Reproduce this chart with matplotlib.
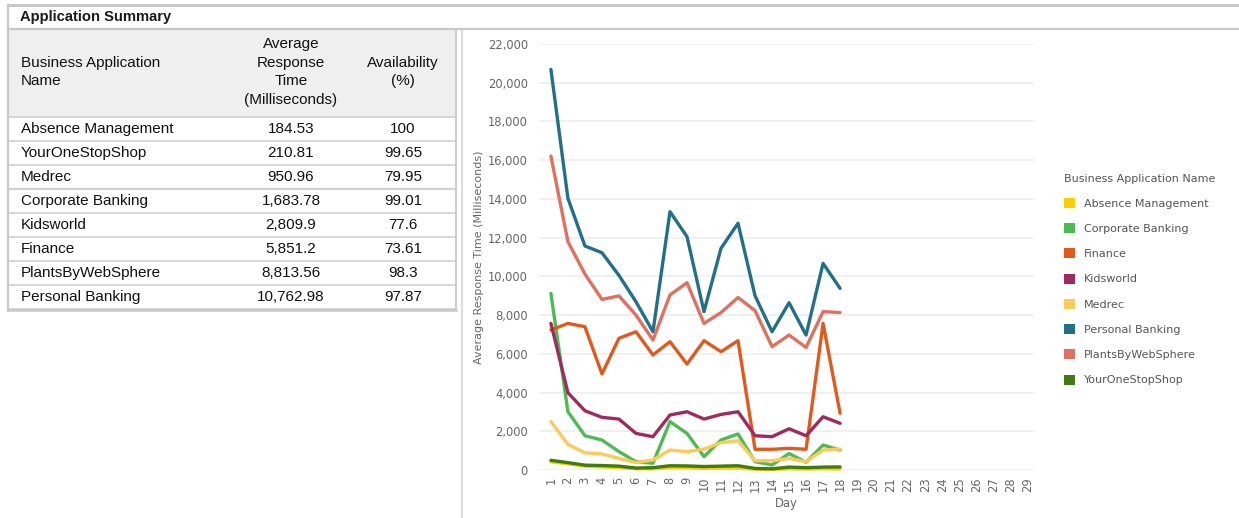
import matplotlib
matplotlib.use("Agg")
import matplotlib.pyplot as plt
from matplotlib.lines import Line2D
from matplotlib.patches import Rectangle, Patch
from matplotlib.ticker import FuncFormatter

W, H = 1239, 518

# summary table
app_names = ["Absence Management", "YourOneStopShop", "Medrec", "Corporate Banking",
             "Kidsworld", "Finance", "PlantsByWebSphere", "Personal Banking"]
avg_response = ["184.53", "210.81", "950.96", "1,683.78", "2,809.9", "5,851.2",
                "8,813.56", "10,762.98"]
availability = ["100", "99.65", "79.95", "99.01", "77.6", "73.61", "98.3", "97.87"]

# daily response times per application
days = list(range(1, 19))
absence_mgmt = [420, 320, 200, 160, 130, 60, 60, 120, 120, 80, 100, 100, 40, 30, 60, 50, 60, 50]
corporate_banking = [9120, 3010, 1770, 1550, 950, 430, 350, 2500, 1890, 690, 1550, 1860,
                     430, 260, 850, 400, 1290, 1030]
finance = [7230, 7570, 7400, 4960, 6800, 7140, 5940, 6630, 5470, 6680, 6110, 6680,
           1070, 1070, 1120, 1070, 7570, 2930]
kidsworld = [7570, 3990, 3060, 2720, 2630, 1890, 1720, 2840, 3010, 2630, 2870, 3010,
             1770, 1720, 2130, 1770, 2750, 2410]
medrec = [2500, 1320, 890, 830, 600, 380, 520, 1030, 950, 1080, 1410, 1510,
          480, 480, 600, 430, 1030, 1080]
personal_banking = [20690, 14030, 11570, 11220, 10050, 8690, 7140, 13340, 12050, 8180,
                    11450, 12740, 9000, 7140, 8640, 6970, 10670, 9380]
plants = [16210, 11790, 10120, 8810, 8990, 8000, 6710, 9040, 9670, 7570, 8130, 8910,
          8230, 6370, 6970, 6330, 8180, 8130]
one_stop = [500, 380, 250, 230, 200, 100, 120, 220, 210, 180, 200, 220,
            80, 60, 150, 120, 150, 160]

series = [
    ("Absence Management", absence_mgmt, "#f8d000"),
    ("Corporate Banking", corporate_banking, "#4cbb52"),
    ("Finance", finance, "#e05a1e"),
    ("Kidsworld", kidsworld, "#a02a5e"),
    ("Medrec", medrec, "#fdca5a"),
    ("Personal Banking", personal_banking, "#227087"),
    ("PlantsByWebSphere", plants, "#e0705f"),
    ("YourOneStopShop", one_stop, "#3f7a12"),
]

table_font = ["Liberation Sans", "DejaVu Sans"]
table_size = 11


def fx(px):
    return px / W


def fy(py):
    return 1 - py / H


def hline(fig, y, x0, x1, color="#d0d0d0", lw=1.2):
    fig.add_artist(Line2D([fx(x0), fx(x1)], [fy(y), fy(y)], color=color, lw=lw))


def vline(fig, x, y0, y1, color="#d0d0d0", lw=1.2):
    fig.add_artist(Line2D([fx(x), fx(x)], [fy(y0), fy(y1)], color=color, lw=lw))


fig = plt.figure(figsize=(W / 100, H / 100), dpi=100)

# title bar
hline(fig, 5, 8, W, color="#c8c8c8", lw=2.2)
hline(fig, 29, 8, W, color="#c8c8c8", lw=1.6)
vline(fig, 8, 5, 311, color="#c8c8c8", lw=1.6)
fig.text(fx(20), fy(17), "Application Summary", family=table_font, fontweight="bold",
         fontsize=10.6, color="#1a1a1a", va="center", ha="left")

# table header
fig.add_artist(Rectangle((fx(9), fy(117)), fx(456) - fx(9), fy(30) - fy(117),
                         transform=fig.transFigure, facecolor="#efefef", edgecolor="none"))
fig.text(fx(21), fy(72), "Business Application\nName", family=table_font,
         fontsize=table_size, color="#111111", va="center", ha="left", linespacing=1.4)
fig.text(fx(291), fy(72), "Average\nResponse\nTime\n(Milliseconds)", family=table_font,
         fontsize=table_size, color="#111111", va="center", ha="center", linespacing=1.4)
fig.text(fx(403), fy(72), "Availability\n(%)", family=table_font, fontsize=table_size,
         color="#111111", va="center", ha="center", linespacing=1.4)

row_h = 24
top = 117
hline(fig, top, 9, 456)
for i, name in enumerate(app_names):
    yc = top + row_h * i + row_h / 2
    fig.text(fx(21), fy(yc), name, family=table_font, fontsize=table_size,
             color="#111111", va="center", ha="left")
    fig.text(fx(291), fy(yc), avg_response[i], family=table_font, fontsize=table_size,
             color="#111111", va="center", ha="center")
    fig.text(fx(403), fy(yc), availability[i], family=table_font, fontsize=table_size,
             color="#111111", va="center", ha="center")
    hline(fig, top + row_h * (i + 1), 9, 456, lw=1.6 if i == 2 else 1.2)
vline(fig, 456, 30, 310, color="#cccccc", lw=1.4)
hline(fig, 310, 8, 456, color="#c8c8c8", lw=1.8)

# divider between table and chart
vline(fig, 462, 30, H, color="#d4d4d4", lw=1.2)

# line chart
ax = fig.add_axes([fx(539), fy(470), fx(1034) - fx(539), fy(44) - fy(470)])
for name, vals, color in series:
    ax.plot(days, vals, color=color, lw=2.4, label=name, solid_capstyle="round",
            solid_joinstyle="round", clip_on=False, zorder=3)

ax.set_xlim(0.3, 29.4)
ax.set_ylim(0, 22000)
ax.set_xticks(range(1, 30))
ax.set_xticklabels([str(d) for d in range(1, 30)], rotation=90)
ax.set_yticks(range(0, 22001, 2000))
ax.yaxis.set_major_formatter(FuncFormatter(lambda v, p: f"{int(v):,}"))
ax.grid(axis="y", color="#eeeeee", lw=1.2)
ax.set_axisbelow(True)
for s in ax.spines.values():
    s.set_visible(False)
ax.tick_params(length=0, labelsize=8.3, labelcolor="#666666", pad=5)
ax.tick_params(axis="y", pad=8)
ax.set_xlabel("Day", fontsize=8.3, color="#666666", labelpad=4)
ax.set_ylabel("Average Response Time (Milliseconds)", fontsize=8, color="#666666",
              labelpad=3)

handles = [Patch(facecolor=c, edgecolor="none") for _, _, c in series]
leg = ax.legend(handles, [n for n, _, _ in series], title="Business Application Name",
                loc="upper left", bbox_to_anchor=(fx(1058), fy(168)),
                bbox_transform=fig.transFigure, frameon=False, fontsize=8,
                title_fontsize=8, handlelength=1.0, handleheight=1.0,
                handletextpad=0.8, labelspacing=1.3, borderpad=0, alignment="left")
leg.get_title().set_color("#555555")
for t in leg.get_texts():
    t.set_color("#555555")

fig.savefig("out.png", dpi=100)
